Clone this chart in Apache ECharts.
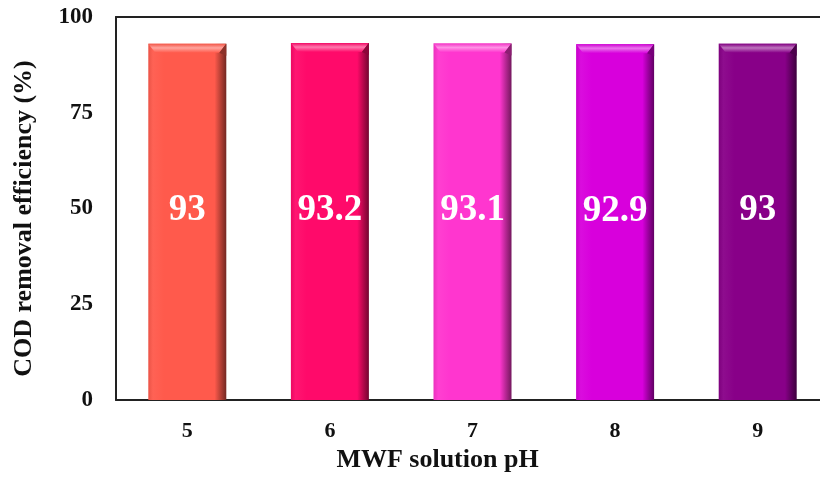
<!DOCTYPE html>
<html>
<head>
<meta charset="utf-8">
<script src="https://cdn.jsdelivr.net/npm/echarts@6/dist/echarts.min.js"></script>
<style>
  html, body { margin: 0; padding: 0; background: #fff; }
  #chart { width: 820px; height: 477px; }
</style>
</head>
<body>
<div id="chart"></div>
<script>
// MWF solution pH levels and measured COD removal (%)
const phLevels = ['5', '6', '7', '8', '9'];
const codRemoval = [93, 93.2, 93.1, 92.9, 93];
const barColors = ['#FF5A4C', '#FF0A6A', '#FF36CF', '#D800DC', '#880088'];
const yTicks = [0, 25, 50, 75, 100];

const serif = '"Liberation Serif", "Times New Roman", serif';
const BAR_W = 78;

function shade(hex, f) {
  const n = parseInt(hex.slice(1), 16);
  let r = (n >> 16) & 255, g = (n >> 8) & 255, b = n & 255;
  if (f < 0) { r *= 1 + f; g *= 1 + f; b *= 1 + f; }
  else { r += (255 - r) * f; g += (255 - g) * f; b += (255 - b) * f; }
  return 'rgb(' + [r, g, b].map(v => Math.round(v)).join(',') + ')';
}

function barGradient(c) {
  return new echarts.graphic.LinearGradient(0, 0, 1, 0, [
    { offset: 0, color: shade(c, -0.08) },
    { offset: 0.06, color: shade(c, 0.05) },
    { offset: 0.2, color: c },
    { offset: 0.85, color: c },
    { offset: 0.93, color: shade(c, -0.3) },
    { offset: 1, color: shade(c, -0.55) }
  ]);
}

const chart = echarts.init(document.getElementById('chart'), null, { renderer: 'canvas' });

chart.setOption({
  animation: false,
  backgroundColor: '#fff',
  grid: { left: 116, top: 17, width: 713, bottom: 77, containLabel: false, outerBoundsMode: 'none' },
  xAxis: [{
    type: 'category',
    data: phLevels,
    axisLine: { lineStyle: { color: '#222', width: 2 } },
    axisTick: { show: false },
    axisLabel: { color: '#111', fontFamily: serif, fontWeight: 'bold', fontSize: 22, margin: 20 },
    name: 'MWF solution pH',
    nameLocation: 'middle',
    nameGap: 46,
    nameTextStyle: { color: '#111', fontFamily: serif, fontWeight: 'bold', fontSize: 26, padding: [0, 70, 0, 0] }
  }, {
    type: 'category',
    position: 'top',
    data: phLevels,
    axisLine: { lineStyle: { color: '#222', width: 2 } },
    axisTick: { show: false },
    axisLabel: { show: false }
  }],
  yAxis: {
    type: 'value',
    min: yTicks[0],
    max: yTicks[yTicks.length - 1],
    interval: 25,
    splitLine: { show: false },
    axisLine: { show: true, lineStyle: { color: '#222', width: 2 } },
    axisTick: { show: false },
    axisLabel: { color: '#111', fontFamily: serif, fontWeight: 'bold', fontSize: 23, margin: 23 },
    name: 'COD removal efficiency (%)',
    nameLocation: 'middle',
    nameGap: 79,
    nameTextStyle: { color: '#111', fontFamily: serif, fontWeight: 'bold', fontSize: 26, padding: [0, 20, 0, 0] }
  },
  series: [{
    type: 'bar',
    barWidth: BAR_W,
    data: codRemoval.map((v, i) => ({
      value: v,
      itemStyle: { color: barGradient(barColors[i]) }
    })),
    label: {
      show: true,
      position: 'inside',
      offset: [0, -11],
      color: '#fff',
      fontFamily: serif,
      fontWeight: 'bold',
      fontSize: 37,
      formatter: p => String(p.value)
    },
    z: 2
  }, {
    // bevel highlight along the top of each bar
    type: 'custom',
    data: codRemoval.map((v, i) => [i, v]),
    z: 3,
    renderItem: function (params, api) {
      const top = api.coord([api.value(0), api.value(1)]);
      const w = BAR_W;
      const x0 = top[0] - w / 2;
      const c = barColors[params.dataIndex];
      return {
        type: 'group',
        children: [{
          type: 'polygon',
          shape: { points: [[x0, top[1]], [x0 + w, top[1]], [x0 + w - 7, top[1] + 9], [x0 + 7, top[1] + 9]] },
          style: {
            fill: new echarts.graphic.LinearGradient(0, 0, 0, 1, [
              { offset: 0, color: shade(c, -0.05) },
              { offset: 0.45, color: shade(c, 0.45) },
              { offset: 1, color: c }
            ])
          }
        }, {
          type: 'polygon',
          shape: { points: [[x0 + w, top[1]], [x0 + w, top[1] + 12], [x0 + w - 7, top[1] + 9]] },
          style: { fill: shade(c, -0.45) }
        }]
      };
    }
  }]
});
</script>
</body>
</html>
